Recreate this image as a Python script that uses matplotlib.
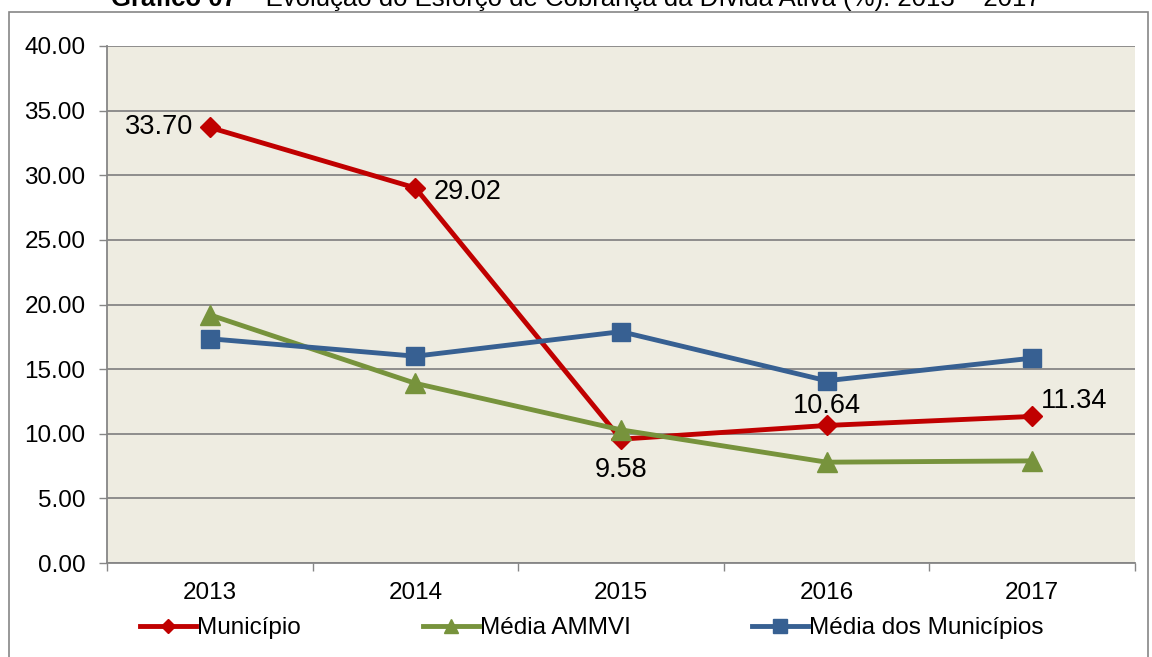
import matplotlib
matplotlib.use("Agg")
import matplotlib.pyplot as plt
from matplotlib.patches import Rectangle

plt.rcParams['font.family'] = ['Liberation Sans', 'DejaVu Sans']

anos = ['2013', '2014', '2015', '2016', '2017']
municipio = [33.70, 29.02, 9.58, 10.64, 11.34]
media_ammvi = [19.2, 13.9, 10.3, 7.8, 7.9]
media_municipios = [17.35, 16.0, 17.9, 14.1, 15.85]

VERMELHO = '#C00000'
VERDE = '#77933C'
AZUL = '#376092'
CINZA = '#868686'

fig = plt.figure(figsize=(11.52, 6.57), dpi=100)
ax = fig.add_axes([107/1152, 1 - 563/657, (1135 - 107)/1152, (563 - 46)/657])
ax.set_facecolor('#EEECE1')

x = list(range(len(anos)))
ax.plot(x, municipio, color=VERMELHO, lw=3.5, marker='D', ms=10, label='Município', zorder=3)
ax.plot(x, media_ammvi, color=VERDE, lw=3.5, marker='^', ms=14, label='Média AMMVI', zorder=3)
ax.plot(x, media_municipios, color=AZUL, lw=3.5, marker='s', ms=13.5, label='Média dos Municípios', zorder=3)

# rotulos de dados (so para o municipio)
fs = 19.5
ax.annotate(f'{municipio[0]:.2f}', (x[0], municipio[0]), xytext=(-12, 0), textcoords='offset points',
            ha='right', va='center', fontsize=fs)
ax.annotate(f'{municipio[1]:.2f}', (x[1], municipio[1]), xytext=(13, -3), textcoords='offset points',
            ha='left', va='center', fontsize=fs)
ax.annotate(f'{municipio[2]:.2f}', (x[2], municipio[2]), xytext=(0, -22), textcoords='offset points',
            ha='center', va='center', fontsize=fs)
ax.annotate(f'{municipio[3]:.2f}', (x[3], municipio[3]), xytext=(0, 14), textcoords='offset points',
            ha='center', va='center', fontsize=fs)
ax.annotate(f'{municipio[4]:.2f}', (x[4], municipio[4]), xytext=(6, 11), textcoords='offset points',
            ha='left', va='center', fontsize=fs)

ax.set_xlim(-0.5, 4.5)
ax.set_ylim(0, 40)
ax.set_yticks([i * 5 for i in range(9)])
ax.set_yticklabels([f'{i * 5:.2f}' for i in range(9)])
ax.set_xticks(x)
ax.set_xticklabels(anos)
ax.set_xticks([i - 0.5 for i in range(6)], minor=True)
ax.tick_params(axis='x', which='major', length=0, pad=14, labelsize=17.5)
ax.tick_params(axis='x', which='minor', length=5.5, width=1, color=CINZA, direction='out')
ax.tick_params(axis='y', length=5.5, width=1, color=CINZA, pad=10, labelsize=17.5)

ax.grid(axis='y', color=CINZA, lw=1.3, zorder=1)
ax.set_axisbelow(True)
for s in ['top', 'right']:
    ax.spines[s].set_visible(False)
for s in ['left', 'bottom']:
    ax.spines[s].set_color(CINZA)
    ax.spines[s].set_linewidth(1.3)

fig.legend(loc='center', bbox_to_anchor=(592/1152, 1 - 628/657), ncol=3, frameon=False,
           fontsize=17.5, handlelength=2.3, handletextpad=0.05, columnspacing=5.0,
           markerscale=0.75)

# moldura externa
fig.patches.append(Rectangle((9/1152, -0.02), (1148 - 9)/1152, 1 - 12/657 + 0.02,
                             transform=fig.transFigure, fill=False, edgecolor=CINZA, lw=1.2))

# titulo (parcialmente cortado no topo, como no original)
r = fig.canvas.get_renderer()
ty = 1 - 6/657
t1 = fig.text(0, ty, 'Gráfico 07', fontsize=18.5, weight='bold', va='baseline')
t2 = fig.text(0, ty, ' – Evolução do Esforço de Cobrança da Dívida Ativa (%): 2013 – 2017',
              fontsize=18.5, va='baseline')
w1 = t1.get_window_extent(r).width
w2 = t2.get_window_extent(r).width
x0 = 576 - (w1 + w2) / 2
t1.set_x(x0 / 1152)
t2.set_x((x0 + w1) / 1152)

fig.savefig('out.png', dpi=100)
